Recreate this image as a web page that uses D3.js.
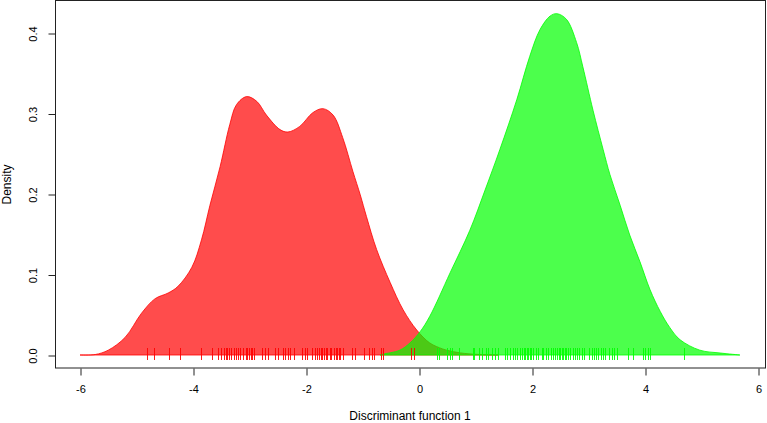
<!DOCTYPE html>
<html>
<head>
<meta charset="utf-8">
<script src="https://cdn.jsdelivr.net/npm/d3@7"></script>
<style>
  html, body { margin: 0; padding: 0; background: #fff; }
  svg { display: block; }
  text { font-family: "Liberation Sans", Arial, Helvetica, sans-serif; fill: #000; }
</style>
</head>
<body>
<svg id="chart" width="767" height="423"></svg>
<script>
// ---- data ----
const group1X = [-6.0, -5.73, -5.50, -5.20, -4.91, -4.67, -4.44, -4.27, -4.02, -3.85, -3.70, -3.52, -3.35, -3.23, -3.05, -2.87, -2.70, -2.46, -2.32, -2.11, -1.88, -1.70, -1.52, -1.35, -1.17, -1.04, -0.93, -0.75, -0.51, -0.28, -0.04, 0.19, 0.42, 0.55, 0.8, 1.1, 1.4];
const group1Y = [0, 0.0006, 0.006, 0.022, 0.052, 0.070, 0.077, 0.085, 0.109, 0.143, 0.186, 0.234, 0.286, 0.311, 0.321, 0.315, 0.298, 0.280, 0.277, 0.284, 0.301, 0.306, 0.298, 0.270, 0.228, 0.199, 0.172, 0.131, 0.090, 0.056, 0.031, 0.015, 0.0075, 0.005, 0.002, 0.0005, 0];

const group2X = [-0.69, -0.64, -0.34, -0.16, 0.02, 0.19, 0.55, 0.90, 1.17, 1.43, 1.73, 1.96, 2.14, 2.32, 2.44, 2.61, 2.79, 2.90, 3.08, 3.26, 3.38, 3.56, 3.73, 3.91, 4.09, 4.27, 4.44, 4.62, 4.97, 5.33, 5.68];
const group2Y = [0, 0.001, 0.006, 0.015, 0.029, 0.048, 0.102, 0.155, 0.205, 0.255, 0.317, 0.371, 0.404, 0.421, 0.424, 0.417, 0.388, 0.358, 0.304, 0.255, 0.224, 0.186, 0.149, 0.116, 0.081, 0.054, 0.034, 0.019, 0.006, 0.0025, 0];

const rug1 = [-4.81, -4.69, -4.42, -4.23, -3.85, -3.66, -3.55, -3.51, -3.45, -3.42, -3.39, -3.36, -3.32, -3.27, -3.24, -3.20, -3.16, -3.11, -3.07, -3.04, -3.01, -2.98, -2.95, -2.92, -2.77, -2.73, -2.68, -2.54, -2.49, -2.40, -2.37, -2.31, -2.28, -2.21, -2.07, -2.02, -1.98, -1.90, -1.84, -1.81, -1.77, -1.74, -1.71, -1.68, -1.65, -1.62, -1.58, -1.55, -1.50, -1.47, -1.45, -1.42, -1.39, -1.34, -1.19, -1.13, -0.97, -0.88, -0.84, -0.80, -0.67, -0.64, -0.15, -0.09];
const rug2 = [0.32, 0.36, 0.50, 0.55, 0.59, 0.70, 0.95, 0.98, 1.07, 1.11, 1.19, 1.23, 1.30, 1.35, 1.39, 1.52, 1.56, 1.61, 1.66, 1.70, 1.74, 1.79, 1.82, 1.85, 1.88, 1.91, 1.93, 1.96, 1.99, 2.02, 2.07, 2.11, 2.17, 2.20, 2.25, 2.29, 2.33, 2.38, 2.41, 2.44, 2.47, 2.50, 2.53, 2.55, 2.58, 2.61, 2.64, 2.68, 2.72, 2.76, 2.79, 2.84, 2.88, 2.92, 3.01, 3.06, 3.10, 3.14, 3.17, 3.22, 3.26, 3.29, 3.37, 3.41, 3.45, 3.50, 3.70, 3.79, 3.96, 4.00, 4.06, 4.09, 4.69];

const xTicks = [-6, -4, -2, 0, 2, 4, 6];
const yTicks = [0.0, 0.1, 0.2, 0.3, 0.4];
const xLabel = "Discriminant function 1";
const yLabel = "Density";

// ---- scales ----
const svg = d3.select("#chart");
const x = d3.scaleLinear().domain([-6, 6]).range([80, 758]);
const y = d3.scaleLinear().domain([0, 0.4]).range([355, 33]);

const box = { left: 55, right: 765, top: 1, bottom: 368 };
const curve = d3.curveCatmullRom.alpha(0.5);

// ---- densities ----
function drawDensity(xs, ys, fill, stroke) {
  const pts = xs.map((v, i) => [v, ys[i]]);
  const area = d3.area().x(d => x(d[0])).y0(y(0)).y1(d => y(d[1])).curve(curve);
  svg.append("path").attr("d", area(pts)).attr("fill", fill).attr("stroke", "none");
  const line = d3.line().x(d => x(d[0])).y(d => y(d[1])).curve(curve);
  svg.append("path").attr("d", line(pts)).attr("fill", "none").attr("stroke", stroke).attr("stroke-width", 1);
  svg.append("line").attr("x1", x(xs[0])).attr("x2", x(xs[xs.length - 1]))
    .attr("y1", y(0)).attr("y2", y(0)).attr("stroke", stroke).attr("stroke-width", 1);
}
drawDensity(group1X, group1Y, "rgba(255,0,0,0.7)", "rgba(255,0,0,0.8)");
drawDensity(group2X, group2Y, "rgba(0,255,0,0.7)", "rgba(0,255,0,0.8)");

// ---- rugs ----
function drawRug(vals, color) {
  svg.append("g").selectAll("line").data(vals).join("line")
    .attr("x1", d => Math.round(x(d)) + 0.5).attr("x2", d => Math.round(x(d)) + 0.5)
    .attr("y1", 348).attr("y2", 360)
    .attr("stroke", color).attr("stroke-width", 1);
}
drawRug(rug1, "rgba(255,0,0,0.9)");
drawRug(rug2, "rgba(0,255,0,0.9)");

// ---- box ----
svg.append("rect")
  .attr("x", box.left + 0.5).attr("y", box.top - 0.5)
  .attr("width", box.right - box.left).attr("height", box.bottom - box.top + 0.5)
  .attr("fill", "none").attr("stroke", "#222").attr("stroke-width", 1);

// ---- axes ----
const xAxis = d3.axisBottom(x).tickValues(xTicks).tickSize(7).tickPadding(10)
  .tickFormat(d => d3.format("d")(d).replace("−", "-"));
const gx = svg.append("g").attr("transform", `translate(0.5,${box.bottom + 0.5})`).call(xAxis);
gx.select(".domain").remove();
gx.selectAll(".tick line").attr("stroke", "#222");
gx.selectAll(".tick text").attr("font-size", 11).attr("font-family", "Liberation Sans, Arial, sans-serif");

const yAxis = d3.axisLeft(y).tickValues(yTicks).tickSize(7).tickFormat(d3.format(".1f"));
const gy = svg.append("g").attr("transform", `translate(${box.left + 0.5},0.5)`).call(yAxis);
gy.select(".domain").remove();
gy.selectAll(".tick line").attr("stroke", "#222");
gy.selectAll(".tick text")
  .attr("font-size", 11).attr("font-family", "Liberation Sans, Arial, sans-serif")
  .attr("text-anchor", "middle").attr("x", null).attr("dy", null)
  .attr("transform", "translate(-19,0) rotate(-90)");

// ---- axis titles ----
svg.append("text").attr("x", (box.left + box.right) / 2).attr("y", 420)
  .attr("text-anchor", "middle").attr("font-size", 12).text(xLabel);
svg.append("text").attr("transform", `translate(11,${(box.top + box.bottom) / 2}) rotate(-90)`)
  .attr("text-anchor", "middle").attr("font-size", 12).text(yLabel);
</script>
</body>
</html>
